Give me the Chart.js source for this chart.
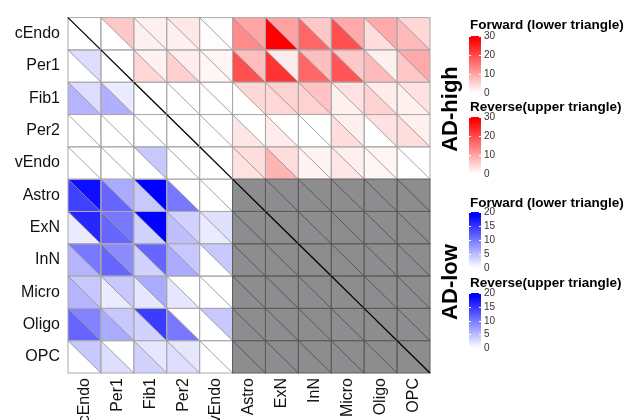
<!DOCTYPE html>
<html>
<head>
<meta charset="utf-8">
<script src="https://cdn.jsdelivr.net/npm/chart.js@4.4.1/dist/chart.umd.min.js"></script>
<style>
  body { margin: 0; background: #fff; }
  #wrap { position: relative; width: 628px; height: 420px; overflow: hidden; font-family: "Liberation Sans", Arial, sans-serif; }
  .ttl { position: absolute; font-size: 13.5px; font-weight: bold; color: #000; white-space: nowrap; line-height: 14px; }
  .bar { position: absolute; width: 12px; }
  .tk { position: absolute; font-size: 10px; color: #333; line-height: 10px; }
  .mk { position: absolute; height: 1px; width: 2px; background: #fff; }
  .big { position: absolute; font-size: 22px; font-weight: bold; white-space: nowrap; transform: translate(-50%, -50%) rotate(-90deg); }
</style>
</head>
<body>
<div id="wrap">
  <canvas id="myChart"></canvas>
  <div id="legende"></div>
</div>
<script>
const cellTypes = ['cEndo', 'Per1', 'Fib1', 'Per2', 'vEndo', 'Astro', 'ExN', 'InN', 'Micro', 'Oligo', 'OPC'];

// lignes = haut -> bas, colonnes = gauche -> droite ; null = non calculé (gris)
// au-dessus de la diagonale : AD-high (rouge, 0-30) ; en dessous : AD-low (bleu, 0-20)
const forward = [ // triangle inférieur de chaque case
  [0, 0, 1.8, 1.6, 0.4, 13.5, 30, 18, 20.6, 4, 8.2],
  [0, 0, 4.7, 5.5, 1.2, 20.6, 24, 18, 20, 8, 6.5],
  [5.9, 6.2, 0, 0, 0, 0, 4.7, 5.3, 1.8, 5.3, 1.8],
  [0, 0, 0, 0, 0, 3, 2.4, 0, 4, 0, 4],
  [0, 0, 0, 0, 0, 3.5, 8.8, 1.5, 3, 1.2, 0],
  [15, 12, 4.3, 10.6, 0, null, null, null, null, null, null],
  [1.6, 12, 3.5, 5, 1.6, null, null, null, null, null, null],
  [5.9, 12, 3.5, 6.7, 0, null, null, null, null, null, null],
  [5.9, 1.6, 2, 2, 0, null, null, null, null, null, null],
  [12, 6.7, 3.5, 10.6, 0, null, null, null, null, null, null],
  [0, 2.7, 3.5, 2.7, 0, null, null, null, null, null, null]
];
const reverse = [ // triangle supérieur de chaque case
  [0, 6.5, 1.8, 2.8, 0.4, 10.6, 11, 6.5, 10, 10, 4.7],
  [2.7, 0, 1.6, 2.2, 1.2, 7.6, 2.4, 7.6, 6.5, 1.8, 10],
  [2.7, 1.6, 0, 0, 0, 4.7, 5.3, 7, 3.5, 2.4, 3.5],
  [0, 0, 0, 0, 0, 0, 0, 0, 1.8, 3.5, 1.8],
  [0, 0, 4.3, 0, 0, 4, 4, 1.5, 1.8, 1.2, 0],
  [19, 6.7, 20, 0, 0, null, null, null, null, null, null],
  [17, 10.6, 20, 3.5, 2.4, null, null, null, null, null, null],
  [10.6, 9, 12, 4.3, 4.3, null, null, null, null, null, null],
  [4.3, 4.3, 6.7, 0, 0, null, null, null, null, null, null],
  [9.8, 4.3, 15.3, 0, 4.3, null, null, null, null, null, null],
  [4.3, 0, 2, 2, 0, null, null, null, null, null, null]
];

const maxHigh = 30;
const maxLow = 20;
const ticksHigh = [0, 10, 20, 30];
const ticksLow = [0, 5, 10, 15, 20];

function couleur(v, ligne, col) {
  if (ligne < col) {
    const g = Math.round(255 * (1 - Math.min(v, maxHigh) / maxHigh));
    return `rgb(255, ${g}, ${g})`;
  }
  const r = Math.round(255 * (1 - Math.min(v, maxLow) / maxLow));
  return `rgb(${r}, ${r}, 255)`;
}

const trianglesPlugin = {
  id: 'triangles',
  beforeDatasetsDraw(chart) {
    const { ctx, scales: { x, y } } = chart;
    const n = cellTypes.length;
    ctx.save();
    for (let i = 0; i < n; i++) {
      for (let j = 0; j < n; j++) {
        const x0 = x.getPixelForValue(j - 0.5), x1 = x.getPixelForValue(j + 0.5);
        const y0 = y.getPixelForValue(i - 0.5), y1 = y.getPixelForValue(i + 0.5);
        const f = forward[i][j], r = reverse[i][j];
        if (f === null) {
          ctx.fillStyle = '#8d8d90';
          ctx.fillRect(x0, y0, x1 - x0, y1 - y0);
          continue;
        }
        // triangle inférieur
        ctx.fillStyle = couleur(f, i, j);
        ctx.beginPath();
        ctx.moveTo(x0, y0); ctx.lineTo(x0, y1); ctx.lineTo(x1, y1); ctx.closePath();
        ctx.fill();
        // triangle supérieur
        ctx.fillStyle = couleur(r, i, j);
        ctx.beginPath();
        ctx.moveTo(x0, y0); ctx.lineTo(x1, y0); ctx.lineTo(x1, y1); ctx.closePath();
        ctx.fill();
      }
    }
    // bordures et diagonales des cases
    for (let i = 0; i < n; i++) {
      for (let j = 0; j < n; j++) {
        const x0 = x.getPixelForValue(j - 0.5), x1 = x.getPixelForValue(j + 0.5);
        const y0 = y.getPixelForValue(i - 0.5), y1 = y.getPixelForValue(i + 0.5);
        const gris = forward[i][j] === null;
        ctx.lineWidth = 1;
        ctx.strokeStyle = gris ? '#5c5c5c' : '#aaaaaa';
        ctx.strokeRect(x0, y0, x1 - x0, y1 - y0);
        ctx.beginPath();
        ctx.moveTo(x0, y0); ctx.lineTo(x1, y1);
        ctx.lineWidth = i === j ? 1.3 : 0.8;
        ctx.strokeStyle = i === j ? '#000' : (gris ? '#4a4a4a' : '#8a8a8a');
        ctx.stroke();
      }
    }
    ctx.restore();
  }
};

const police = { family: '"Liberation Sans", Arial, sans-serif', size: 16 };

const ctx = document.getElementById('myChart').getContext('2d');
const myChart = new Chart(ctx, {
  type: 'scatter',
  data: { datasets: [{ data: [] }] },
  options: {
    responsive: true,
    maintainAspectRatio: false,
    animation: false,
    layout: { padding: { top: 10, right: 198, left: 0, bottom: 0 } },
    plugins: { legend: { display: false }, tooltip: { enabled: false } },
    scales: {
      x: {
        type: 'category',
        labels: cellTypes,
        offset: true,
        position: 'bottom',
        grid: { display: false, drawTicks: false },
        border: { display: false },
        ticks: { autoSkip: false, minRotation: 90, maxRotation: 90, padding: 5, color: '#111', font: police },
        afterFit(s) { s.height = 47; }
      },
      y: {
        type: 'category',
        labels: cellTypes,
        offset: true,
        position: 'left',
        grid: { display: false, drawTicks: false },
        border: { display: false },
        ticks: { autoSkip: false, padding: 8, color: '#111', font: police },
        afterFit(s) { s.width = 68; }
      }
    }
  },
  plugins: [trianglesPlugin]
});

// légendes (barres de couleur)
const legende = document.getElementById('legende');
function ajouterBarre(titre, yTitre, haut, bas, couleurMax, ticks, max) {
  const t = document.createElement('div');
  t.className = 'ttl';
  t.style.left = '470px';
  t.style.top = (yTitre - 7) + 'px';
  t.textContent = titre;
  legende.appendChild(t);
  const b = document.createElement('div');
  b.className = 'bar';
  b.style.left = '469px';
  b.style.top = haut + 'px';
  b.style.height = (bas - haut) + 'px';
  b.style.background = `linear-gradient(to top, #ffffff, ${couleurMax} 94%, ${couleurMax})`;
  legende.appendChild(b);
  for (const v of ticks) {
    const yy = bas - (bas - haut) * v / max;
    for (const xx of [469, 479]) {
      const m = document.createElement('div');
      m.className = 'mk';
      m.style.left = xx + 'px';
      m.style.top = Math.round(yy) + 'px';
      legende.appendChild(m);
    }
    const l = document.createElement('div');
    l.className = 'tk';
    l.style.left = '484px';
    l.style.top = (yy - 5) + 'px';
    l.textContent = v;
    legende.appendChild(l);
  }
}
ajouterBarre('Forward (lower triangle)', 25, 36, 93, '#ff0000', ticksHigh, maxHigh);
ajouterBarre('Reverse(upper triangle)', 107, 117, 174, '#ff0000', ticksHigh, maxHigh);
ajouterBarre('Forward (lower triangle)', 203, 212, 268, '#0000ff', ticksLow, maxLow);
ajouterBarre('Reverse(upper triangle)', 283, 293, 348, '#0000ff', ticksLow, maxLow);

for (const [txt, cy] of [['AD-high', 109], ['AD-low', 282]]) {
  const d = document.createElement('div');
  d.className = 'big';
  d.style.left = '450px';
  d.style.top = cy + 'px';
  d.textContent = txt;
  legende.appendChild(d);
}
</script>
</body>
</html>
